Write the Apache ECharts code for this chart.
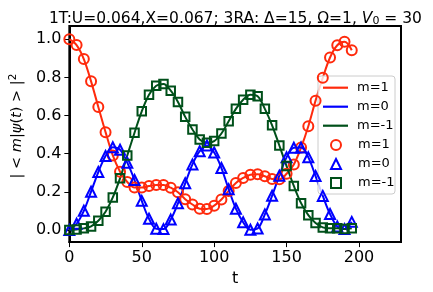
<!DOCTYPE html>
<html>
<head>
<meta charset="utf-8">
<script src="https://cdn.jsdelivr.net/npm/echarts@6/dist/echarts.min.js"></script>
<style>
html,body{margin:0;padding:0;background:#fff;}
#chart{width:433px;height:292px;}
</style>
</head>
<body>
<div id="chart"></div>
<script>
var tValues = [0,5,10,15,20,25,30,35,40,45,50,55,60,65,70,75,80,85,90,95,100,105,110,115,120,125,130,135,140,145,150,155,160,165,170,175,180,185,190,195];
var m1 = [1.000,0.969,0.896,0.779,0.645,0.513,0.391,0.306,0.252,0.223,0.223,0.231,0.236,0.236,0.222,0.198,0.162,0.134,0.112,0.110,0.128,0.160,0.205,0.247,0.273,0.290,0.293,0.282,0.268,0.266,0.295,0.344,0.432,0.544,0.678,0.798,0.904,0.968,0.986,0.942];
var m0 = [0.000,0.033,0.101,0.201,0.304,0.388,0.434,0.421,0.353,0.262,0.153,0.059,0.007,0.005,0.055,0.140,0.245,0.344,0.413,0.443,0.406,0.325,0.214,0.112,0.041,0.002,0.008,0.082,0.180,0.285,0.381,0.431,0.432,0.381,0.283,0.179,0.084,0.019,0.005,0.043];
var mm1 = [0.000,0.003,0.009,0.019,0.049,0.096,0.171,0.271,0.391,0.510,0.622,0.709,0.756,0.765,0.730,0.671,0.593,0.527,0.475,0.457,0.466,0.506,0.570,0.635,0.683,0.709,0.701,0.635,0.549,0.443,0.335,0.231,0.141,0.078,0.037,0.014,0.009,0.009,0.005,0.009];
var xTicks = [0,50,100,150,200];
var yTicks = [0,0.2,0.4,0.6,0.8,1.0];
var lineNames = ['m=1','m=0','m=-1'];
var markerNames = ['m=1 ','m=0 ','m=-1 '];

var colors = ['#ff2a0c','#0000ff','#00501a'];
var symbols = ['circle','triangle','rect'];
var symSizes = [10,10,8.5];
var seriesData = [m1,m0,mm1];

function pairs(arr){ return tValues.map(function(t,i){ return [t,arr[i]]; }); }

var series = [];
for (var k=0;k<3;k++){
  series.push({
    name: lineNames[k], type:'line', data: pairs(seriesData[k]),
    symbol:'none', smooth:0.35, z:2,
    lineStyle:{color:colors[k], width:2}, itemStyle:{color:colors[k]}
  });
}
for (var k=0;k<3;k++){
  series.push({
    name: markerNames[k], type:'scatter', data: pairs(seriesData[k]),
    symbol: symbols[k], symbolSize: symSizes[k], z:3,
    itemStyle:{color:'rgba(255,255,255,0)', borderColor:colors[k], borderWidth:2, opacity:1}
  });
}

var font = 'DejaVu Sans';
var chart = echarts.init(document.getElementById('chart'), null, {renderer:'canvas'});
chart.setOption({
  animation:false,
  backgroundColor:'#fff',
  title:{
    left:44, top:5,
    text:'1T:U=0.064,X=0.067; 3RA: Δ=15, Ω=1, {i|V}{sub|0} = 30',
    textStyle:{fontFamily:font, fontSize:15.5, fontWeight:'normal', color:'#000',
      rich:{
        i:{fontFamily:font, fontSize:15.5, fontStyle:'italic', color:'#000'},
        sub:{fontFamily:font, fontSize:11, color:'#000', verticalAlign:'bottom', padding:[6,0,0,0]}
      }}
  },
  grid:{left:66, right:32, top:26, bottom:49, show:true, borderColor:'#000', borderWidth:2, backgroundColor:'transparent'},
  xAxis:{
    type:'value', min:0, max:229,
    name:'t', nameLocation:'middle', nameGap:26,
    nameTextStyle:{fontFamily:font, fontSize:16, color:'#000'},
    axisLine:{show:true, onZero:false, lineStyle:{color:'#000', width:2}},
    axisTick:{show:true, inside:false, length:5, lineStyle:{color:'#000', width:1}, customValues:xTicks},
    axisLabel:{fontFamily:font, fontSize:16, color:'#000', margin:8, customValues:xTicks},
    splitLine:{show:false}
  },
  yAxis:{
    type:'value', min:-0.063, max:1.069,
    name:'| < {i|m}|{i|ψ}({i|t}) > |{sup|2}', nameLocation:'middle', nameGap:41,
    nameTextStyle:{fontFamily:font, fontSize:14.5, color:'#000', padding:[0,0,0,16],
      rich:{
        i:{fontFamily:font, fontSize:14.5, fontStyle:'italic', color:'#000'},
        sup:{fontFamily:font, fontSize:10.5, color:'#000', verticalAlign:'top', padding:[0,0,8,0]}
      }},
    axisLine:{show:true, onZero:false, lineStyle:{color:'#000', width:2}},
    axisTick:{show:true, inside:false, length:5, lineStyle:{color:'#000', width:1}, customValues:yTicks},
    axisLabel:{fontFamily:font, fontSize:16, color:'#000', margin:8, customValues:yTicks,
      formatter:function(v){ return v.toFixed(1); }},
    splitLine:{show:false}
  },
  graphic:[{
    type:'rect', z:3, zlevel:0,
    shape:{x:318, y:76, width:77, height:118, r:3},
    style:{fill:'rgba(255,255,255,0.8)', stroke:'#cccccc', lineWidth:1}
  }],
  legend:[{
    data: lineNames.map(function(n){ return {name:n, icon:'rect'}; }),
    orient:'vertical', left:323, top:80.7, padding:0,
    itemWidth:25, itemHeight:2.2, itemGap:5, z:5,
    textStyle:{fontFamily:font, fontSize:13, color:'#000', lineHeight:14, padding:[0,0,0,4]},
    selectedMode:false
  },{
    data: markerNames, orient:'vertical', left:330, top:138, padding:0,
    itemWidth:10, itemHeight:10, itemGap:5, z:5,
    textStyle:{fontFamily:font, fontSize:13, color:'#000', lineHeight:14, padding:[0,0,0,12]},
    selectedMode:false
  }],
  series: series
});
</script>
</body>
</html>
